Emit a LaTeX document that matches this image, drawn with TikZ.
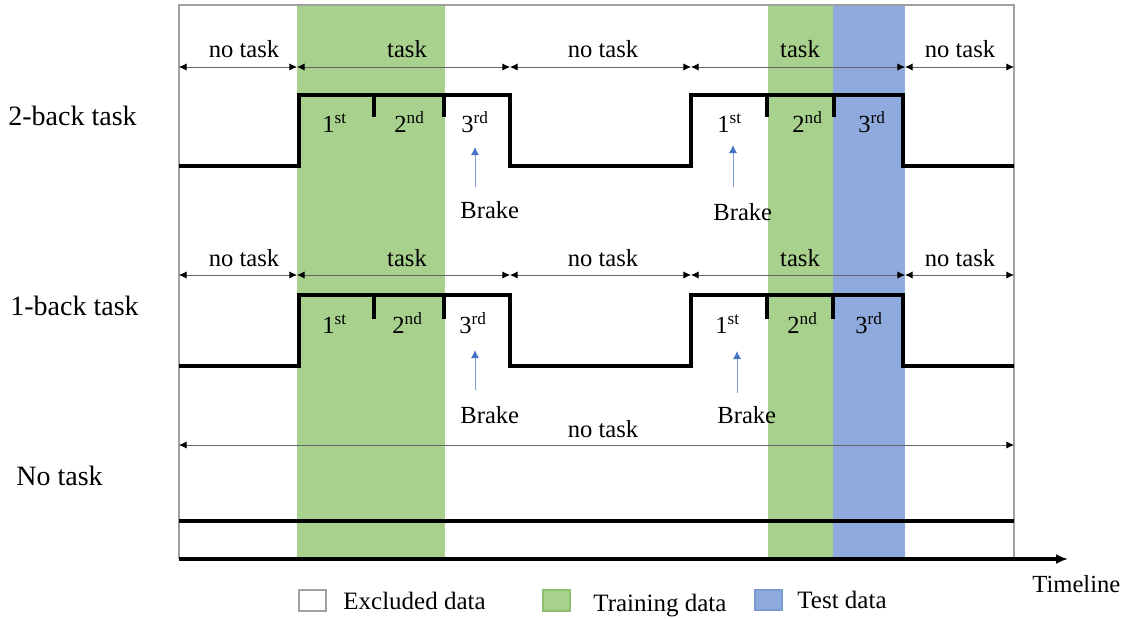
\documentclass[tikz,border=0pt]{standalone}
\usepackage{fontspec}
\setmainfont{Liberation Serif}
\usetikzlibrary{arrows.meta}
\definecolor{traingreen}{HTML}{A9D18E}
\definecolor{trainedge}{HTML}{8CBF6E}
\definecolor{testblue}{HTML}{8FAADC}
\definecolor{testedge}{HTML}{7C9AD2}
\definecolor{brakeblue}{HTML}{4472C4}
\definecolor{framegray}{HTML}{A0A0A0}
\tikzset{
	lbl/.style={inner sep=0pt, anchor=base, font=\fontsize{12.3}{14}\selectfont},
	rowlbl/.style={inner sep=0pt, anchor=base west, font=\fontsize{14}{16}\selectfont},
	ord/.style={inner sep=0pt, anchor=base west, font=\fontsize{12.3}{14}\selectfont},
	span/.style={draw=black!60, line width=0.4pt, {Latex[length=3.8pt,width=3.6pt,color=black]}-{Latex[length=3.8pt,width=3.6pt,color=black]}},
	wave/.style={line width=2pt},
	brake/.style={draw=brakeblue!70, line width=0.5pt, -{Latex[length=4pt,width=4pt,color=brakeblue]}},
}

\begin{document}
\begin{tikzpicture}[x=0.5pt, y=-0.5pt]
			%%%%% START %%%%%
			\useasboundingbox (0,0) rectangle (1128,618);
			
			% data bands
			\fill[traingreen] (297,5) rectangle (445,559);
			\fill[traingreen] (768,5) rectangle (833,559);
			\fill[testblue] (833,5) rectangle (905,559);
			\draw[framegray, line width=0.75pt] (179,559) -- (179,5) -- (1014,5) -- (1014,559);
			
			% row labels
			\node[rowlbl] (twoback) at (8,125) {2-back task};
			\node[rowlbl] (oneback) at (10,315) {1-back task};
			\node[rowlbl] (notask) at (16,485) {No task};
			
			% 2-back task
			\coordinate (s10) at (179,67);
			\coordinate (s11) at (297,67);
			\coordinate (s12) at (510,67);
			\coordinate (s13) at (691,67);
			\coordinate (s14) at (905,67);
			\coordinate (s15) at (1014,67);
			\draw[span] (s10) -- (s11);
			\draw[span] (s11) -- (s12);
			\draw[span] (s12) -- (s13);
			\draw[span] (s13) -- (s14);
			\draw[span] (s14) -- (s15);
			\node[lbl] (t11) at (244,57) {no task};
			\node[lbl] (t12) at (407,57) {task};
			\node[lbl] (t13) at (603,57) {no task};
			\node[lbl] (t14) at (800,57) {task};
			\node[lbl] (t15) at (960,57) {no task};
			
			\draw[wave] (179,166) -- (299,166) -- (299,95) -- (510,95) -- (510,166) -- (691,166) -- (691,95) -- (903,95) -- (903,166) -- (1014,166);
			\draw[wave] (374,95) -- (374,117);
			\draw[wave] (444,95) -- (444,117);
			\draw[wave] (767,95) -- (767,117);
			\draw[wave] (834,95) -- (834,117);
			
			\node[ord] (o11) at (322,132) {1\textsuperscript{st}};
			\node[ord] (o12) at (394,132) {2\textsuperscript{nd}};
			\node[ord] (o13) at (461,132) {3\textsuperscript{rd}};
			\node[ord] (o14) at (717,132) {1\textsuperscript{st}};
			\node[ord] (o15) at (792,132) {2\textsuperscript{nd}};
			\node[ord] (o16) at (858,132) {3\textsuperscript{rd}};
			
			\coordinate (b1s) at (475,187);
			\coordinate (b1e) at (475,147);
			\coordinate (b2s) at (733,187);
			\coordinate (b2e) at (733,145);
			\draw[brake] (b1s) -- (b1e);
			\draw[brake] (b2s) -- (b2e);
			\node[ord] (brk1) at (460,218) {Brake};
			\node[ord] (brk2) at (713,220) {Brake};
			
			% 1-back task
			\coordinate (s20) at (179,275);
			\coordinate (s21) at (297,275);
			\coordinate (s22) at (510,275);
			\coordinate (s23) at (691,275);
			\coordinate (s24) at (905,275);
			\coordinate (s25) at (1014,275);
			\draw[span] (s20) -- (s21);
			\draw[span] (s21) -- (s22);
			\draw[span] (s22) -- (s23);
			\draw[span] (s23) -- (s24);
			\draw[span] (s24) -- (s25);
			\node[lbl] (t21) at (244,266) {no task};
			\node[lbl] (t22) at (407,266) {task};
			\node[lbl] (t23) at (603,266) {no task};
			\node[lbl] (t24) at (800,266) {task};
			\node[lbl] (t25) at (960,266) {no task};
			
			\draw[wave] (179,366) -- (299,366) -- (299,295) -- (510,295) -- (510,366) -- (691,366) -- (691,295) -- (903,295) -- (903,366) -- (1014,366);
			\draw[wave] (374,295) -- (374,319);
			\draw[wave] (444,295) -- (444,319);
			\draw[wave] (767,295) -- (767,319);
			\draw[wave] (833,295) -- (833,319);
			
			\node[ord] (o21) at (322,333) {1\textsuperscript{st}};
			\node[ord] (o22) at (392,333) {2\textsuperscript{nd}};
			\node[ord] (o23) at (459,333) {3\textsuperscript{rd}};
			\node[ord] (o24) at (715,333) {1\textsuperscript{st}};
			\node[ord] (o25) at (787,333) {2\textsuperscript{nd}};
			\node[ord] (o26) at (855,333) {3\textsuperscript{rd}};
			
			\coordinate (b3s) at (475,390);
			\coordinate (b3e) at (475,350);
			\coordinate (b4s) at (737,393);
			\coordinate (b4e) at (737,351);
			\draw[brake] (b3s) -- (b3e);
			\draw[brake] (b4s) -- (b4e);
			\node[ord] (brk3) at (460,423) {Brake};
			\node[ord] (brk4) at (717,423) {Brake};
			
			% no task
			\coordinate (s30) at (179,445);
			\coordinate (s31) at (1014,445);
			\draw[span] (s30) -- (s31);
			\node[lbl] (t31) at (603,437) {no task};
			\draw[wave] (179,521) -- (1014,521);
			
			% timeline
			\coordinate (ax0) at (179,559);
			\coordinate (ax1) at (1068,559);
			\draw[line width=1.75pt, -{Latex[length=6pt,width=5pt]}] (ax0) -- (ax1);
			\node[ord] (tline) at (1032,592) {Timeline};
			
			% legend
			\draw[framegray, line width=0.6pt, fill=white] (299,590) rectangle (326,611);
			\node[ord, font=\fontsize{12.5}{14}\selectfont] (lg1) at (343,609) {Excluded data};
			\draw[trainedge, line width=0.6pt, fill=traingreen] (543,590) rectangle (570,611);
			\node[ord, font=\fontsize{12.5}{14}\selectfont] (lg2) at (593,611) {Training data};
			\draw[testedge, line width=0.6pt, fill=testblue] (755,590) rectangle (782,610);
			\node[ord, font=\fontsize{12.5}{14}\selectfont] (lg3) at (797,608) {Test data};
			
			%%%%% END %%%%%
\end{tikzpicture}
\end{document}
